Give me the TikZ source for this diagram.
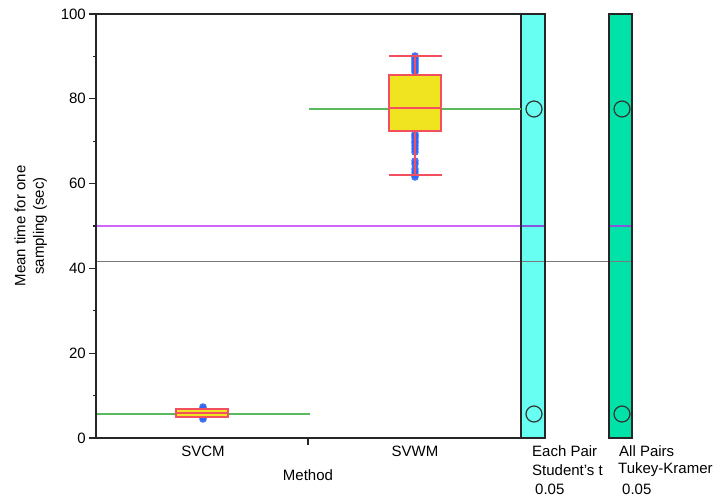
\documentclass[tikz,border=0pt]{standalone}
\usepackage{fontspec}
\setmainfont{Liberation Sans}
\definecolor{boxyellow}{HTML}{F0E320}
\definecolor{boxred}{HTML}{F2505E}
\definecolor{dotblue}{HTML}{2F66F5}
\definecolor{meangreen}{HTML}{5CB85C}
\definecolor{barcyan}{HTML}{66FFF2}
\definecolor{bargreen}{HTML}{00E2A8}
\definecolor{refpurple}{HTML}{CC66FF}
\definecolor{inpurple}{HTML}{8855DD}
\definecolor{refgray}{HTML}{7A7A7A}
\tikzset{
  lbl/.style={font=\fontsize{15}{18}\selectfont, inner sep=0pt},
  axisline/.style={draw=black!85, line width=1.8pt},
  dot/.style={fill=dotblue, draw=none, fill opacity=0.9},
  whisk/.style={draw=boxred, line width=1.4pt},
  boxst/.style={fill=boxyellow, draw=boxred, line width=1.4pt},
  meanl/.style={draw=meangreen, line width=1.4pt},
  circ/.style={draw=black!80, line width=1.2pt},
}
\begin{document}
\begin{tikzpicture}[x=1pt,y=-1pt]
\useasboundingbox (0,0) rectangle (717,500);
\fill[white] (0,0) rectangle (717,500);
% comparison bars
\fill[barcyan] (521,14) rectangle (545,438);
\fill[bargreen] (609,14) rectangle (632,438);
% reference lines
\draw[refpurple, line width=1.4pt] (96,226) -- (521,226);
\draw[inpurple, line width=1.4pt] (521,226) -- (545,226);
\draw[inpurple, line width=1.4pt] (609,226) -- (632,226);
\draw[refgray, line width=1pt] (96,261) -- (632,261);
\draw[draw=black!85, line width=1.5pt] (521,14) rectangle (545,438);
\draw[draw=black!85, line width=1.5pt] (609,14) rectangle (632,438);
% SVCM
\draw[meanl] (96,414) -- (310,414);
\foreach \yy in {407,409,417,419} \fill[dot] (203,\yy) circle (3.8);
\draw[boxst] (176,409) rectangle (228,417);
\draw[boxred, line width=1.4pt] (176,413) -- (228,413);
% SVWM
\draw[meanl] (309,109) -- (521,109);
\foreach \yy in {56,58,60,62,64,66,68,70,72,134,136,138,141,143,146,149,152,161,164,169,172,175,177}
  \fill[dot] (415,\yy) circle (3.8);
\draw[whisk] (415,56) -- (415,75);
\draw[whisk] (415,131) -- (415,175);
\draw[whisk] (389,56) -- (442,56);
\draw[whisk] (389,175) -- (442,175);
\draw[boxst] (389,75) rectangle (441,131);
\draw[boxred, line width=1.4pt] (389,108) -- (441,108);
% circles
\draw[circ] (534,109) circle (8);
\draw[circ] (622,109) circle (8);
\draw[circ] (534,414) circle (8);
\draw[circ] (622,414) circle (8);
% axes
\draw[axisline] (521,14) -- (96,14) -- (96,438) -- (521,438);
\foreach \v/\t in {0/0,20/20,40/40,60/60,80/80,100/100} {
  \draw[black!85, line width=1.2pt] (89,{438-4.24*\v}) -- (96,{438-4.24*\v});
  \node[lbl, anchor=east] (yt\v) at (86,{438-4.24*\v}) {\t};
}
\foreach \v in {10,30,50,70,90}
  \draw[black!85, line width=1.2pt] (93,{438-4.24*\v}) -- (96,{438-4.24*\v});
\draw[black!85, line width=1.2pt] (308,438) -- (308,445);
% labels
\node[lbl] (svcm) at (203,451) {SVCM};
\node[lbl] (svwm) at (415,451) {SVWM};
\node[lbl] (method) at (308,475) {Method};
\node[lbl, rotate=90] (ylab1) at (20,226) {Mean time for one};
\node[lbl, rotate=90] (ylab2) at (40,226) {sampling (sec)};
\node[lbl, anchor=west] (ep1) at (532,451) {Each Pair};
\node[lbl, anchor=west] (ep2) at (532,470) {Student's t};
\node[lbl, anchor=west] (ep3) at (535,489) {0.05};
\node[lbl, anchor=west] (ap1) at (619,451) {All Pairs};
\node[lbl, anchor=west] (ap2) at (618,470) {Tukey-Kramer};
\node[lbl, anchor=west] (ap3) at (622,489) {0.05};
\end{tikzpicture}
\end{document}
